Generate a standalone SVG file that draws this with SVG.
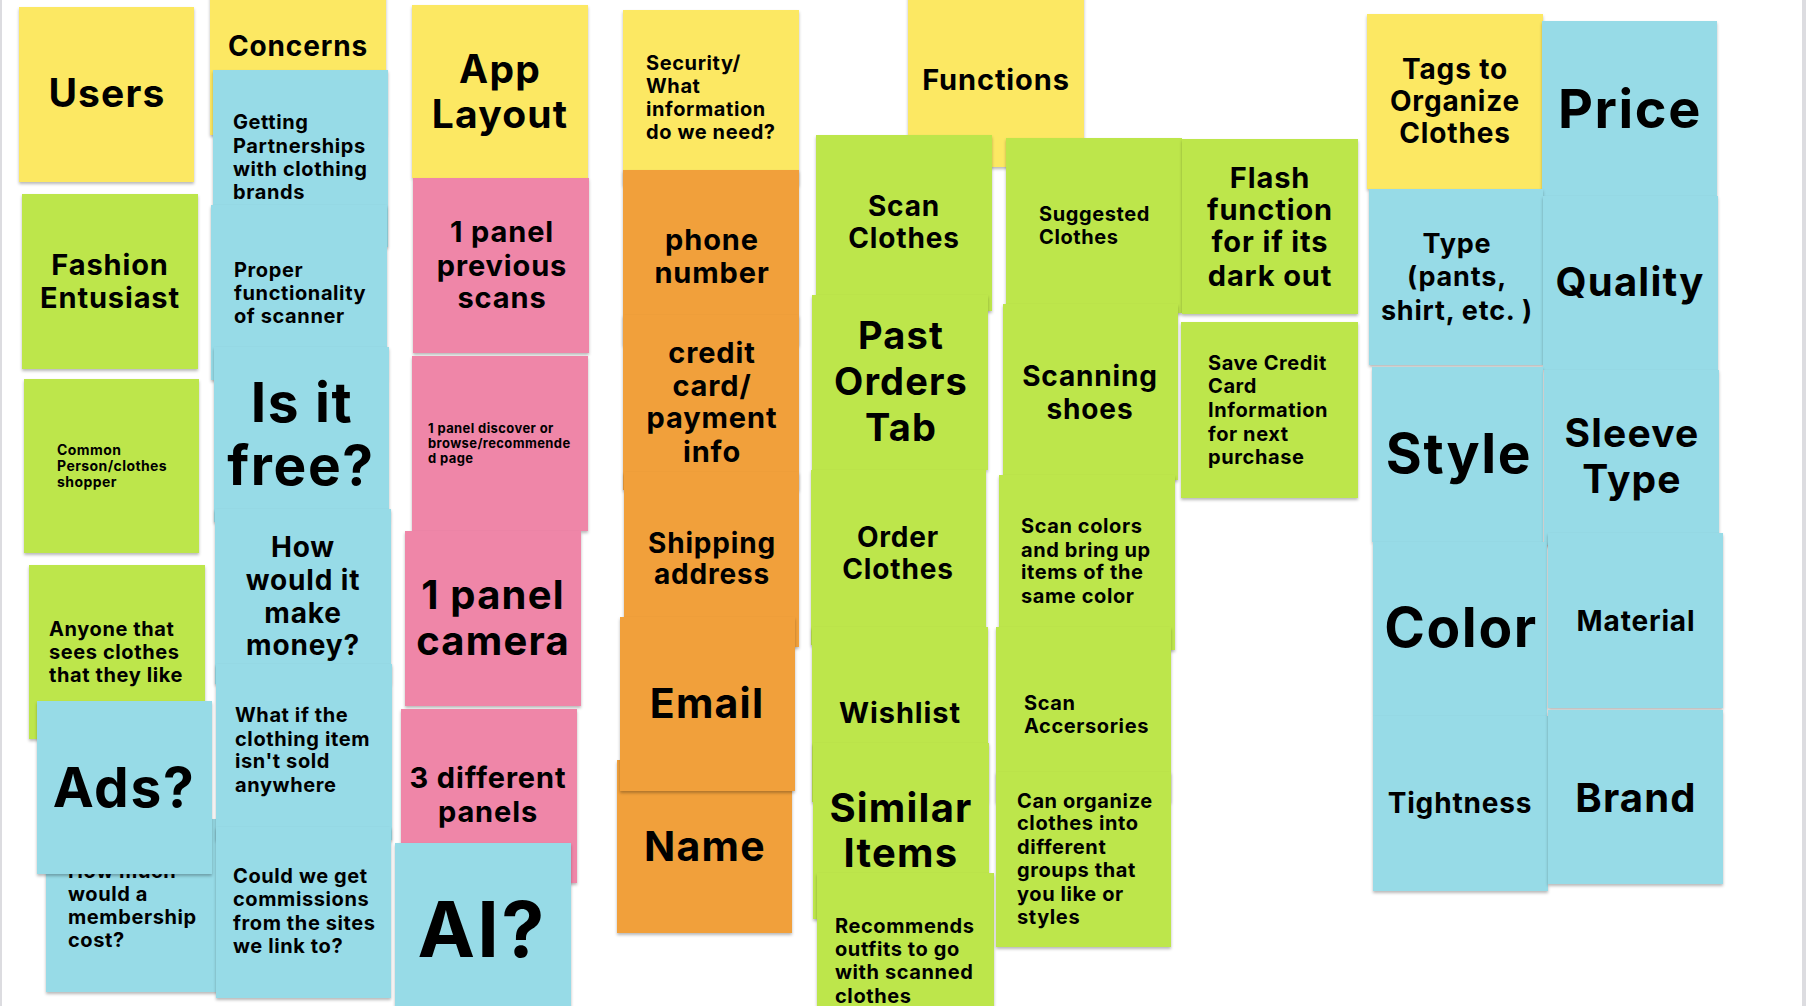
<svg xmlns="http://www.w3.org/2000/svg" width="1806" height="1006" viewBox="0 0 1806 1006">
  <defs>
    <filter id="lift" x="-10%" y="-10%" width="120%" height="125%">
      <feDropShadow dx="0" dy="2" stdDeviation="1.4" flood-color="#000" flood-opacity="0.28"/>
    </filter>
    <style>
      .note { filter: url(#lift); }
      .yel { fill: #fce863; }
      .grn { fill: #bde64b; }
      .blu { fill: #97dbe7; }
      .pnk { fill: #ef86a8; }
      .org { fill: #f1a03b; }
      text { font-family: "Inter", "DejaVu Sans", sans-serif; font-weight: 700; fill: #000; letter-spacing: 0.03em; }
      .c { text-anchor: middle; }
    </style>
  </defs>

  <!-- board background -->
  <rect x="0" y="0" width="1806" height="1006" fill="#ffffff"/>
  <rect x="0" y="0" width="2" height="1006" fill="#dcdce0"/>
  <rect x="1802" y="0" width="4" height="1006" fill="#dcdce0"/>

  <!-- column: users -->
  <g id="users"><rect class="note yel" x="19" y="7" width="175" height="175"/>
    <text class="c" x="107" y="107" font-size="39">Users</text></g>
  <g id="fashion-entusiast"><rect class="note grn" x="22" y="194" width="176" height="175"/>
    <text class="c" x="110" y="275" font-size="29">Fashion</text>
    <text class="c" x="110" y="308" font-size="29">Entusiast</text></g>
  <g id="common-person"><rect class="note grn" x="24" y="379" width="175" height="174"/>
    <text x="57" y="455" font-size="14">Common</text>
    <text x="57" y="471" font-size="14">Person/clothes</text>
    <text x="57" y="487" font-size="14">shopper</text></g>
  <g id="anyone"><rect class="note grn" x="29" y="565" width="176" height="174"/>
    <text x="49" y="636" font-size="20">Anyone that</text>
    <text x="49" y="659" font-size="20">sees clothes</text>
    <text x="49" y="682" font-size="20">that they like</text></g>
  <g id="membership-cost"><rect class="note blu" x="46" y="819" width="175" height="173"/>
    <text x="68" y="878" font-size="20">How much</text>
    <text x="68" y="901" font-size="20">would a</text>
    <text x="68" y="924" font-size="20">membership</text>
    <text x="68" y="947" font-size="20">cost?</text></g>
  <g id="ads"><rect class="note blu" x="37" y="701" width="175" height="173"/>
    <text class="c" x="124" y="807" font-size="55">Ads?</text></g>

  <!-- column: concerns -->
  <g id="concerns"><rect class="note yel" x="210" y="-40" width="176" height="175"/>
    <text class="c" x="298" y="56" font-size="28">Concerns</text></g>
  <g id="partnerships"><rect class="note blu" x="213" y="70" width="175" height="177"/>
    <text x="233" y="129" font-size="20">Getting</text>
    <text x="233" y="153" font-size="20">Partnerships</text>
    <text x="233" y="176" font-size="20">with clothing</text>
    <text x="233" y="199" font-size="20">brands</text></g>
  <g id="scanner"><rect class="note blu" x="211" y="205" width="176" height="175"/>
    <text x="234" y="277" font-size="20">Proper</text>
    <text x="234" y="300" font-size="20">functionality</text>
    <text x="234" y="323" font-size="20">of scanner</text></g>
  <g id="is-it-free"><rect class="note blu" x="214" y="347" width="175" height="175"/>
    <text class="c" x="302" y="422" font-size="55">Is it</text>
    <text class="c" x="301" y="485" font-size="55">free?</text></g>
  <g id="make-money"><rect class="note blu" x="215" y="509" width="176" height="175"/>
    <text class="c" x="303" y="557" font-size="28">How</text>
    <text class="c" x="303" y="590" font-size="28">would it</text>
    <text class="c" x="303" y="623" font-size="28">make</text>
    <text class="c" x="303" y="655" font-size="28">money?</text></g>
  <g id="not-sold"><rect class="note blu" x="216" y="664" width="176" height="176"/>
    <text x="235" y="722" font-size="20">What if the</text>
    <text x="235" y="746" font-size="20">clothing item</text>
    <text x="235" y="768" font-size="20">isn't sold</text>
    <text x="235" y="792" font-size="20">anywhere</text></g>
  <g id="commissions"><rect class="note blu" x="216" y="827" width="175" height="171"/>
    <text x="233" y="883" font-size="20">Could we get</text>
    <text x="233" y="906" font-size="20">commissions</text>
    <text x="233" y="930" font-size="20">from the sites</text>
    <text x="233" y="953" font-size="20">we link to?</text></g>

  <!-- column: app layout -->
  <g id="app-layout"><rect class="note yel" x="412" y="5" width="176" height="173"/>
    <text class="c" x="500" y="83" font-size="39">App</text>
    <text class="c" x="500" y="128" font-size="39">Layout</text></g>
  <g id="previous-scans"><rect class="note pnk" x="413" y="178" width="176" height="175"/>
    <text class="c" x="502" y="242" font-size="29">1 panel</text>
    <text class="c" x="502" y="276" font-size="29">previous</text>
    <text class="c" x="502" y="308" font-size="29">scans</text></g>
  <g id="discover-page"><rect class="note pnk" x="412" y="356" width="176" height="175"/>
    <text x="428" y="433" font-size="13">1 panel discover or</text>
    <text x="428" y="448" font-size="13">browse/recommende</text>
    <text x="428" y="463" font-size="13">d page</text></g>
  <g id="camera"><rect class="note pnk" x="405" y="531" width="176" height="175"/>
    <text class="c" x="493" y="609" font-size="40">1 panel</text>
    <text class="c" x="493" y="655" font-size="40">camera</text></g>
  <g id="three-panels"><rect class="note pnk" x="401" y="709" width="176" height="174"/>
    <text class="c" x="488" y="788" font-size="29">3 different</text>
    <text class="c" x="488" y="822" font-size="29">panels</text></g>
  <g id="ai"><rect class="note blu" x="395" y="843" width="176" height="175"/>
    <text class="c" x="482" y="957" font-size="77">AI?</text></g>

  <!-- column: security -->
  <g id="security"><rect class="note yel" x="623" y="10" width="176" height="175"/>
    <text x="646" y="70" font-size="20">Security/</text>
    <text x="646" y="93" font-size="20">What</text>
    <text x="646" y="116" font-size="20">information</text>
    <text x="646" y="139" font-size="20">do we need?</text></g>
  <g id="phone-number"><rect class="note org" x="623" y="170" width="176" height="175"/>
    <text class="c" x="712" y="250" font-size="29">phone</text>
    <text class="c" x="712" y="283" font-size="29">number</text></g>
  <g id="credit-card"><rect class="note org" x="623" y="315" width="176" height="175"/>
    <text class="c" x="712" y="363" font-size="29">credit</text>
    <text class="c" x="712" y="396" font-size="29">card/</text>
    <text class="c" x="712" y="428" font-size="29">payment</text>
    <text class="c" x="712" y="462" font-size="29">info</text></g>
  <g id="shipping"><rect class="note org" x="624" y="472" width="175" height="175"/>
    <text class="c" x="712" y="553" font-size="28">Shipping</text>
    <text class="c" x="712" y="584" font-size="28">address</text></g>
  <g id="name"><rect class="note org" x="617" y="760" width="175" height="173"/>
    <text class="c" x="705" y="861" font-size="41">Name</text></g>
  <g id="email"><rect class="note org" x="620" y="617" width="175" height="174"/>
    <text class="c" x="707" y="718" font-size="41">Email</text></g>

  <!-- column: functions -->
  <g id="functions"><rect class="note yel" x="908" y="-10" width="176" height="177"/>
    <text class="c" x="996" y="90" font-size="29">Functions</text></g>
  <g id="scan-clothes"><rect class="note grn" x="816" y="135" width="176" height="176"/>
    <text class="c" x="904" y="216" font-size="28">Scan</text>
    <text class="c" x="904" y="248" font-size="28">Clothes</text></g>
  <g id="past-orders"><rect class="note grn" x="812" y="295" width="176" height="175"/>
    <text class="c" x="901" y="349" font-size="38">Past</text>
    <text class="c" x="901" y="395" font-size="38">Orders</text>
    <text class="c" x="901" y="441" font-size="38">Tab</text></g>
  <g id="order-clothes"><rect class="note grn" x="811" y="470" width="175" height="175"/>
    <text class="c" x="898" y="547" font-size="28">Order</text>
    <text class="c" x="898" y="579" font-size="28">Clothes</text></g>
  <g id="wishlist"><rect class="note grn" x="812" y="627" width="176" height="175"/>
    <text class="c" x="900" y="723" font-size="29">Wishlist</text></g>
  <g id="similar-items"><rect class="note grn" x="813" y="743" width="176" height="176"/>
    <text class="c" x="901" y="822" font-size="40">Similar</text>
    <text class="c" x="901" y="867" font-size="40">Items</text></g>
  <g id="recommends"><rect class="note grn" x="817" y="873" width="177" height="176"/>
    <text x="835" y="933" font-size="20">Recommends</text>
    <text x="835" y="956" font-size="20">outfits to go</text>
    <text x="835" y="979" font-size="20">with scanned</text>
    <text x="835" y="1003" font-size="20">clothes</text></g>

  <!-- column: scanning -->
  <g id="suggested"><rect class="note grn" x="1006" y="138" width="176" height="175"/>
    <text x="1039" y="221" font-size="20">Suggested</text>
    <text x="1039" y="244" font-size="20">Clothes</text></g>
  <g id="scanning-shoes"><rect class="note grn" x="1003" y="304" width="175" height="176"/>
    <text class="c" x="1090" y="386" font-size="28">Scanning</text>
    <text class="c" x="1090" y="419" font-size="28">shoes</text></g>
  <g id="scan-colors"><rect class="note grn" x="999" y="475" width="176" height="175"/>
    <text x="1021" y="533" font-size="20">Scan colors</text>
    <text x="1021" y="557" font-size="20">and bring up</text>
    <text x="1021" y="579" font-size="20">items of the</text>
    <text x="1021" y="603" font-size="20">same color</text></g>
  <g id="scan-accessories"><rect class="note grn" x="996" y="627" width="175" height="175"/>
    <text x="1024" y="710" font-size="20">Scan</text>
    <text x="1024" y="733" font-size="20">Accersories</text></g>
  <g id="organize-groups"><rect class="note grn" x="996" y="772" width="175" height="175"/>
    <text x="1017" y="808" font-size="20">Can organize</text>
    <text x="1017" y="830" font-size="20">clothes into</text>
    <text x="1017" y="854" font-size="20">different</text>
    <text x="1017" y="877" font-size="20">groups that</text>
    <text x="1017" y="901" font-size="20">you like or</text>
    <text x="1017" y="924" font-size="20">styles</text></g>

  <!-- column: extras -->
  <g id="flash"><rect class="note grn" x="1182" y="139" width="176" height="175"/>
    <text class="c" x="1270" y="188" font-size="29">Flash</text>
    <text class="c" x="1270" y="220" font-size="29">function</text>
    <text class="c" x="1270" y="252" font-size="29">for if its</text>
    <text class="c" x="1270" y="286" font-size="29">dark out</text></g>
  <g id="save-card"><rect class="note grn" x="1181" y="322" width="177" height="176"/>
    <text x="1208" y="370" font-size="20">Save Credit</text>
    <text x="1208" y="393" font-size="20">Card</text>
    <text x="1208" y="417" font-size="20">Information</text>
    <text x="1208" y="441" font-size="20">for next</text>
    <text x="1208" y="464" font-size="20">purchase</text></g>

  <!-- column: tags -->
  <g id="tags"><rect class="note yel" x="1367" y="14" width="176" height="175"/>
    <text class="c" x="1455" y="79" font-size="28">Tags to</text>
    <text class="c" x="1455" y="111" font-size="28">Organize</text>
    <text class="c" x="1455" y="143" font-size="28">Clothes</text></g>
  <g id="price"><rect class="note blu" x="1542" y="21" width="175" height="175"/>
    <text class="c" x="1630" y="128" font-size="54">Price</text></g>
  <g id="type"><rect class="note blu" x="1369" y="189" width="174" height="176"/>
    <text class="c" x="1457" y="253" font-size="27">Type</text>
    <text class="c" x="1457" y="286" font-size="27">(pants,</text>
    <text class="c" x="1457" y="320" font-size="27">shirt, etc. )</text></g>
  <g id="quality"><rect class="note blu" x="1543" y="196" width="175" height="174"/>
    <text class="c" x="1630" y="296" font-size="40">Quality</text></g>
  <g id="style"><rect class="note blu" x="1372" y="367" width="171" height="175"/>
    <text class="c" x="1459" y="473" font-size="55">Style</text></g>
  <g id="sleeve-type"><rect class="note blu" x="1544" y="370" width="175" height="175"/>
    <text class="c" x="1632" y="447" font-size="39">Sleeve</text>
    <text class="c" x="1632" y="493" font-size="39">Type</text></g>
  <g id="color"><rect class="note blu" x="1373" y="542" width="174" height="174"/>
    <text class="c" x="1461" y="647" font-size="55">Color</text></g>
  <g id="material"><rect class="note blu" x="1548" y="533" width="175" height="175"/>
    <text class="c" x="1636" y="631" font-size="28">Material</text></g>
  <g id="tightness"><rect class="note blu" x="1373" y="716" width="175" height="175"/>
    <text class="c" x="1460" y="813" font-size="28">Tightness</text></g>
  <g id="brand"><rect class="note blu" x="1548" y="710" width="175" height="174"/>
    <text class="c" x="1636" y="812" font-size="40">Brand</text></g>

  <!-- no connectors on this board -->
  <g id="connectors"/>
</svg>
